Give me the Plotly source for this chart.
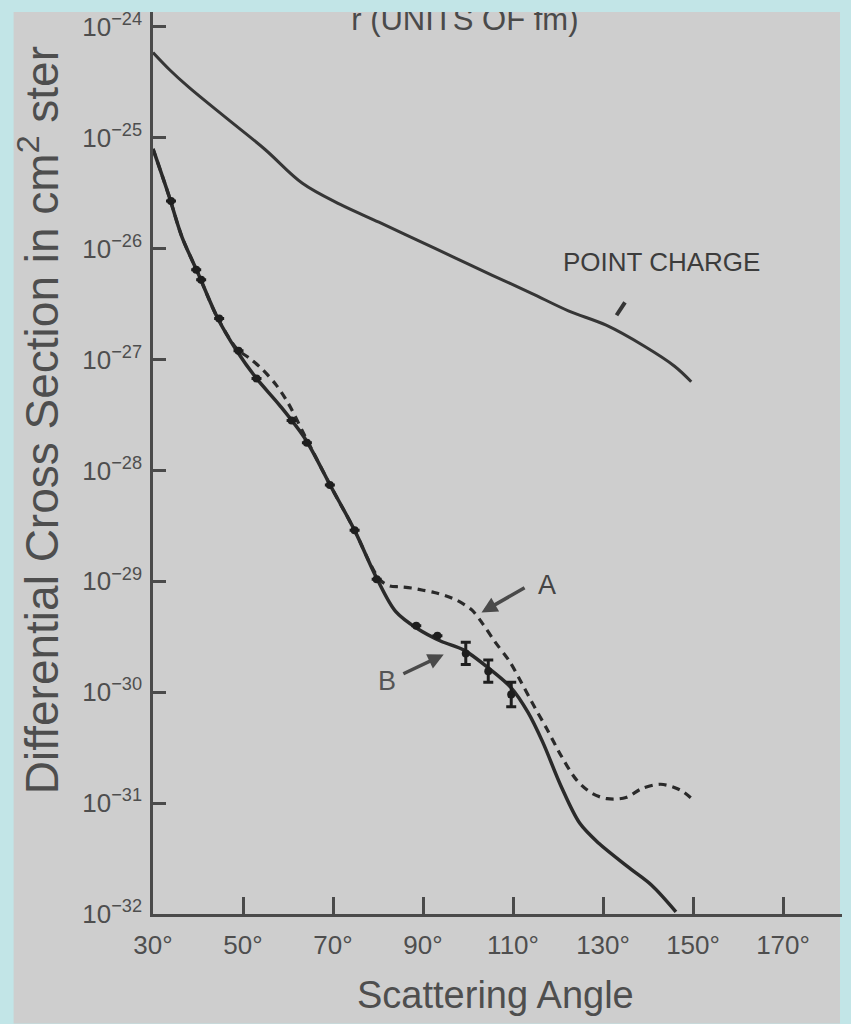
import plotly.graph_objects as go

# ---------------- data (angles in degrees, cross sections as log10 values) -------------
pc_angle = [30, 33.8, 38.0, 46.4, 54.9, 63.2, 71.6, 80.2, 88.6, 97.0, 105.4, 114.0,
            122.3, 130.7, 139.2, 145.9, 149.6]
pc_log = [-24.23, -24.39, -24.545, -24.825, -25.105, -25.41, -25.60, -25.76, -25.92,
          -26.08, -26.24, -26.40, -26.56, -26.69, -26.88, -27.06, -27.20]

b_angle = [30, 33.6, 36.4, 40.0, 44.3, 48.6, 53.0, 58.1, 63.9, 69.6, 74.8, 79.7, 83.9,
           88.9, 94.0, 99.1, 104.5, 109.6, 113.3, 116.6, 120.7, 124.8, 129.0, 135.7,
           140.8, 146.2]
b_log = [-25.10, -25.53, -25.89, -26.22, -26.62, -26.92, -27.17, -27.41, -27.72, -28.15,
         -28.54, -28.97, -29.27, -29.43, -29.54, -29.62, -29.78, -29.96, -30.18, -30.45,
         -30.85, -31.18, -31.36, -31.58, -31.74, -31.98]

a_angle = [30, 33.6, 36.4, 40.0, 44.3, 48.6, 51.5, 54.1, 57.4, 60.0, 63.9, 69.6, 74.8,
           78.5, 80.5, 82.5, 85.0, 87.4, 90.0, 92.5, 95.0, 97.5, 100.9, 103.4, 105.9,
           109.2, 111.7, 114.2, 117.5, 120.8, 124.1, 127.5, 130.9, 135.1, 138.6, 142.8,
           147.1, 150.0]
a_log = [-25.10, -25.53, -25.89, -26.22, -26.62, -26.90, -26.99, -27.08, -27.23, -27.39,
         -27.70, -28.15, -28.54, -28.86, -28.99, -29.04, -29.05, -29.06, -29.08, -29.10,
         -29.13, -29.17, -29.26, -29.39, -29.54, -29.72, -29.90, -30.09, -30.33, -30.58,
         -30.79, -30.91, -30.96, -30.95, -30.87, -30.83, -30.88, -30.97]

pt_angle = [34.0, 39.6, 40.7, 44.7, 49.0, 53.0, 60.8, 64.2, 69.3, 74.8, 79.7, 88.5,
            93.2, 99.5, 104.5, 109.6]
pt_log = [-25.57, -26.19, -26.28, -26.63, -26.92, -27.17, -27.55, -27.75, -28.13,
          -28.54, -28.98, -29.40, -29.49, -29.65, -29.81, -30.02]
pt_err_dec = [0, 0, 0, 0, 0, 0, 0, 0, 0, 0, 0, 0, 0, 0.10, 0.10, 0.11]

x_ticks = [30, 50, 70, 90, 110, 130, 150, 170]
x_ticktext = ["30°", "50°", "70°", "90°", "110°", "130°", "150°", "170°"]
y_exps = [-32, -31, -30, -29, -28, -27, -26, -25, -24]
y_ticktext = ["10<sup>−%d</sup>" % (-e) for e in y_exps]

top_label = "r (UNITS OF fm)"
top_label_pos = (99.3, -23.955)
pc_label_pos = (143.0, -26.12)
pc_pointer = ((133.0, -26.60), (135.1, -26.47))
a_label_pos = (117.6, -29.03)
a_arrow = ((103.0, -29.28), (112.9, -29.05))
b_label_pos = (81.9, -29.90)
b_arrow = ((94.6, -29.66), (85.3, -29.84))

# ---------------- styling ----------------
INK = "#2a2a2a"
TXT = "#4e4e4e"
AX = "#4a4a4a"
GRAY = "#cecece"
BLUE = "#c2e5e7"
NARROW = "Liberation Sans Narrow, Arial Narrow, Liberation Sans, Arial, sans-serif"
SANS = "Liberation Sans, Arial, Helvetica, sans-serif"


def lin(v):
    return [10 ** x for x in v]


pt_y = lin(pt_log)
err_plus = [y * (10 ** e - 1) for y, e in zip(pt_y, pt_err_dec)]
err_minus = [y * (1 - 10 ** (-e)) for y, e in zip(pt_y, pt_err_dec)]

fig = go.Figure()

fig.add_trace(go.Scatter(
    x=a_angle, y=lin(a_log), mode="lines",
    line=dict(color=INK, width=3.2, dash="8px,6px", shape="spline", smoothing=0.9),
    showlegend=False, hoverinfo="skip"))

fig.add_trace(go.Scatter(
    x=b_angle, y=lin(b_log), mode="lines",
    line=dict(color=INK, width=3.5, shape="spline", smoothing=0.9),
    showlegend=False, hoverinfo="skip"))

fig.add_trace(go.Scatter(
    x=pc_angle, y=lin(pc_log), mode="lines",
    line=dict(color="#363636", width=3, shape="spline", smoothing=1.0),
    showlegend=False, hoverinfo="skip"))

fig.add_trace(go.Scatter(
    x=pt_angle, y=pt_y, mode="markers",
    marker=dict(color="#1e1e1e", size=8, symbol="circle"),
    error_y=dict(type="data", symmetric=False, array=err_plus, arrayminus=err_minus,
                 color="#1e1e1e", thickness=3, width=5),
    showlegend=False, hoverinfo="skip"))

fig.add_trace(go.Scatter(
    x=[top_label_pos[0]], y=[10 ** top_label_pos[1]], mode="text",
    text=[top_label], textposition="middle center",
    textfont=dict(family=SANS, size=31, color="#4a4a4a"),
    cliponaxis=True, showlegend=False, hoverinfo="skip"))

annotations = [
    dict(text="Differential Cross Section in cm<sup>2</sup> ster", textangle=-90,
         xref="paper", yref="paper", x=-0.1662, y=0.548, xanchor="center",
         yanchor="middle", showarrow=False, font=dict(family=SANS, size=46, color=TXT)),
    dict(text="Scattering Angle", xref="paper", yref="paper", x=0.497, y=-0.0895,
         xanchor="center", yanchor="middle", showarrow=False,
         font=dict(family=SANS, size=38, color=TXT)),
    dict(text="POINT CHARGE", x=pc_label_pos[0], y=pc_label_pos[1], xref="x", yref="y",
         showarrow=False, font=dict(family=SANS, size=26, color="#3c3c3c")),
    dict(text="", x=pc_pointer[0][0], y=pc_pointer[0][1], ax=pc_pointer[1][0],
         ay=pc_pointer[1][1], axref="x", ayref="y", xref="x", yref="y", showarrow=True,
         arrowhead=0, arrowwidth=4, arrowcolor="#363636", standoff=0, startstandoff=0),
    dict(text="A", x=a_label_pos[0], y=a_label_pos[1], xref="x", yref="y",
         showarrow=False, font=dict(family=SANS, size=27, color="#444444")),
    dict(text="", x=a_arrow[0][0], y=a_arrow[0][1], ax=a_arrow[1][0], ay=a_arrow[1][1],
         axref="x", ayref="y", xref="x", yref="y", showarrow=True, arrowhead=2,
         arrowsize=0.9, arrowwidth=3.5, arrowcolor="#4a4a4a", standoff=0,
         startstandoff=0),
    dict(text="B", x=b_label_pos[0], y=b_label_pos[1], xref="x", yref="y",
         showarrow=False, font=dict(family=SANS, size=27, color="#555555")),
    dict(text="", x=b_arrow[0][0], y=b_arrow[0][1], ax=b_arrow[1][0], ay=b_arrow[1][1],
         axref="x", ayref="y", xref="x", yref="y", showarrow=True, arrowhead=2,
         arrowsize=0.9, arrowwidth=3.5, arrowcolor="#4a4a4a", standoff=0,
         startstandoff=0),
]

fig.update_layout(
    width=851, height=1024,
    margin=dict(l=153, r=9, t=9, b=110, pad=0),
    paper_bgcolor=BLUE, plot_bgcolor="rgba(0,0,0,0)",
    showlegend=False,
    annotations=annotations,
    shapes=[dict(type="rect", xref="paper", yref="paper", x0=-0.2023, x1=0.9971,
                 y0=-0.1215, y1=1.0, fillcolor=GRAY, line=dict(width=0), layer="below")],
    xaxis=dict(range=[30, 183.1], tickvals=x_ticks, ticktext=x_ticktext,
               ticks="inside", ticklen=17, tickwidth=2.5, tickcolor=AX,
               showline=True, linecolor=AX, linewidth=2.5, showgrid=False,
               zeroline=False, ticklabelstandoff=6,
               tickfont=dict(family=NARROW, size=26, color=TXT)),
    yaxis=dict(type="log", range=[-32, -23.865], tickvals=[10 ** e for e in y_exps],
               ticktext=y_ticktext, ticks="inside", ticklen=13, tickwidth=2.5,
               tickcolor=AX, showline=True, linecolor=AX, linewidth=2.5,
               showgrid=False, zeroline=False, ticklabelstandoff=3,
               tickfont=dict(family=NARROW, size=26, color=TXT)),
)

fig.write_html("out.html")
